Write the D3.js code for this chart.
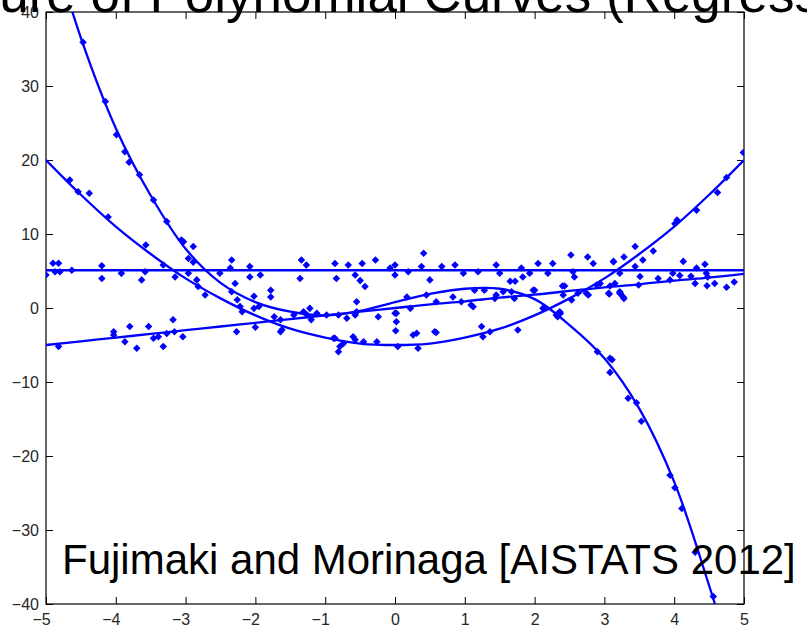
<!DOCTYPE html>
<html>
<head>
<meta charset="utf-8">
<script src="https://d3js.org/d3.v7.min.js"></script>
<style>
  body { margin: 0; background: #fff; }
  svg { display: block; }
</style>
</head>
<body>
<div id="chart"></div>
<script>
// Mixture of polynomial curves

// x positions where the fitted curves were read
var curveX = [-5, -4.5, -4, -3.5, -3, -2.5, -2, -1.5, -1, -0.5, 0, 0.5, 1, 1.5, 2, 2.5, 3, 3.5, 4, 4.5, 5];

// fitted curves (y at curveX)
var flatCurve   = [5.1, 5.1, 5.1, 5.1, 5.1, 5.1, 5.1, 5.1, 5.1, 5.1, 5.1, 5.1, 5.1, 5.1, 5.1, 5.1, 5.1, 5.1, 5.1, 5.1, 5.1];
var linearCurve = [-5, -4.5, -4, -3.5, -3, -2.5, -2, -1.5, -1, -0.5, 0, 0.5, 0.9, 1.4, 1.8, 2.3, 2.8, 3.2, 3.7, 4.1, 4.6];
var quadCurve   = [20, 15.3, 11, 7.3, 4, 1.3, -1, -2.8, -4, -4.8, -5, -4.8, -4, -2.8, -1, 1.3, 4, 7.3, 11, 15.3, 20];
var cubicCurve  = [52, 36.5, 24.3, 15.2, 8.0, 3.4, 0.8, -0.5, -1.0, -0.4, 0.8, 1.9, 2.6, 2.6, 1.2, -2.3, -6.8, -13.6, -23.5, -37.5, -53];

// noisy samples [x, y]
var flatPts = [[-5.0,4.46],[-4.9,6.04],[-4.82,6.04],[-4.87,4.9],[-4.8,4.9],[-4.63,5.1],[-4.2,5.7],[-4.2,4.0],[-3.92,4.68],
  [-3.63,3.8],[-3.58,4.9],[-3.15,4.2],[-2.51,4.7],[-2.34,6.5],[-2.36,5.4],[-2.08,5.6],[-2.08,4.2],[-1.93,4.45],[-1.34,6.5],
  [-1.27,5.8],[-1.36,4.0],[-0.86,6.0],[-0.84,4.0],[-0.67,5.8],[-0.57,4.46],[-0.47,6.0],[-0.28,6.5],[-0.07,5.4],[0.0,5.8],
  [0.0,4.46],[0.19,4.9],[0.41,7.4],[0.38,5.6],[0.5,3.8],[0.67,5.6],[0.86,5.8],[0.98,4.7],[1.19,4.9],[1.45,5.8],[1.5,4.7],
  [1.81,5.4],[1.83,4.2],[1.93,4.7],[2.05,6.0],[2.19,4.7],[2.26,6.0],[2.52,7.15],[2.55,4.9],[2.57,4.2],[2.76,6.9],[2.84,6.0],
  [3.13,6.25],[3.22,4.7],[3.44,5.6],[3.51,4.25],[4.13,6.3],[4.32,5.4],[4.44,5.9],[4.3,3.3],[4.47,3.0],[4.58,3.3],[4.75,2.8],
  [4.86,3.5],[4.46,4.7],[3.98,4.7]];
var linearPts = [[-4.82,-5.2],[-4.03,-3.2],[-4.03,-3.65],[-3.87,-4.55],[-3.8,-2.5],[-3.53,-2.5],[-3.46,-4.1],[-3.7,-5.45],
  [-3.32,-5.2],[-3.39,-3.9],[-3.27,-3.45],[-3.16,-3.2],[-3.18,-1.6],[-3.04,-3.9],[-2.27,-3.2],[-2.0,-2.6],[-1.62,-2.95],
  [-1.64,-3.2],[-1.2,-1.6],[-0.81,-0.95],[-0.69,-1.4],[-0.57,-0.95],[-0.24,-1.17],[0.02,-0.7],[0.02,-1.85],[0.22,-0.05],
  [0.59,0.86],[0.95,0.86],[1.09,0.41],[1.12,0.18],[1.43,1.3],[1.71,1.3],[2.0,2.4],[2.41,1.76],[2.62,1.98],[2.74,1.98],
  [3.06,1.98],[3.22,2.2],[3.27,1.5],[2.94,3.3],[3.07,1.9],[3.23,2.0],[3.28,1.3],[3.49,3.1],[3.77,4.0],[3.94,3.8],[4.08,4.4],
  [4.24,4.3],[4.48,4.2]];
var quadPts = [[-4.66,17.3],[-4.54,15.7],[-4.38,15.5],[-4.11,12.3],[-3.57,8.5],[-3.32,5.8],[-2.96,4.7],[-2.84,3.8],
  [-2.82,2.9],[-2.72,1.76],[-2.26,1.1],[-2.22,0.2],[-2.19,-0.5],[-1.95,0.2],[-1.73,-1.17],[-1.64,-1.6],[-1.45,-0.95],
  [-0.88,-4.1],[-0.81,-5.9],[-0.86,-4.1],[-0.79,-5.2],[-0.74,-4.8],[-0.6,-3.9],[-0.57,-4.3],[-0.45,-4.55],[-0.26,-4.55],
  [0.04,-5.2],[0.01,-3.06],[0.26,-3.65],[0.31,-3.4],[0.33,-5.45],[0.57,-3.2],[0.59,-3.3],[1.24,-2.5],[1.26,-3.9],[1.36,-3.2],
  [1.76,-2.97],[2.53,1.08],[2.77,1.76],[2.89,3.1],[3.15,3.3],[3.13,6.3],[3.28,6.9],[3.44,8.3],[3.55,6.5],[3.7,7.7],[4.01,11.4],
  [4.04,11.9],[4.32,13.2],[4.62,15.6],[4.75,17.65],[4.99,21.0]];
var cubicPts = [[-4.47,35.9],[-4.15,27.9],[-3.99,23.4],[-3.87,21.1],[-3.81,19.7],[-3.66,18.0],[-3.46,14.6],[-3.27,11.7],
  [-3.06,9.2],[-2.89,8.3],[-3.03,8.96],[-2.89,6.2],[-2.96,6.7],[-2.34,2.2],[-2.29,3.3],[-2.02,1.6],[-1.78,2.4],[-1.78,1.5],
  [-2.02,-0.05],[-1.31,-0.5],[-1.26,-0.95],[-1.22,-0.05],[-1.12,-0.7],[-0.98,-0.95],[-0.55,-0.5],[-0.55,0.86],[-0.5,3.7],
  [-0.43,2.9],[0.0,-0.7],[0.17,1.5],[0.45,1.76],[0.83,1.5],[1.14,2.4],[1.28,2.4],[1.45,1.76],[1.55,2.2],[1.67,2.2],[1.65,3.6],
  [1.72,3.6],[1.98,2.4],[2.4,2.97],[2.43,2.97],[2.12,-0.05],[2.31,-0.95],[2.33,-1.17],[2.36,-0.5],[2.37,-0.7],[2.9,-5.9],
  [3.08,-6.8],[3.11,-7.0],[3.08,-8.7],[3.34,-12.2],[3.46,-12.8],[3.53,-15.3],[3.94,-22.6],[4.01,-24.3],[4.11,-27.1],
  [4.3,-33],[4.56,-39],[3.08,2.97],[3.22,1.98]];

var xTicks = [-5, -4, -3, -2, -1, 0, 1, 2, 3, 4, 5];
var yTicks = [-40, -30, -20, -10, 0, 10, 20, 30, 40];

var titleText = "Mixture of Polynomial Curves (Regression)";
var noteText = "Fujimaki and Morinaga [AISTATS 2012]";

var width = 807, height = 628;
var plot = { left: 46, right: 744, top: 12, bottom: 604 };
var blue = "#0000ff";

var svg = d3.select("#chart").append("svg")
  .attr("width", width)
  .attr("height", height)
  .style("font-family", "'Liberation Sans', Arial, sans-serif");

var x = d3.scaleLinear().domain([-5, 5]).range([plot.left, plot.right]);
var y = d3.scaleLinear().domain([-40, 40]).range([plot.bottom, plot.top]);

svg.append("clipPath").attr("id", "plotClip")
  .append("rect")
  .attr("x", plot.left).attr("y", plot.top)
  .attr("width", plot.right - plot.left).attr("height", plot.bottom - plot.top);

// axes (ticks inside, box like matlab)
var tickLen = 7;
function styleAxis(g){
  g.select(".domain").remove();
  g.selectAll("line").attr("stroke", "#000");
  g.selectAll("text").attr("fill", "#262626").style("font-size", "16px").style("font-family", "'Liberation Sans', Arial, sans-serif");
}

svg.append("g")
  .attr("transform", "translate(0," + plot.bottom + ")")
  .call(d3.axisBottom(x).tickValues(xTicks).tickSize(-tickLen).tickSizeOuter(0).tickPadding(10))
  .call(styleAxis)
  .selectAll("text").attr("dx", function(d){ return d < 0 ? -5 : 0 });

svg.append("g")
  .attr("transform", "translate(0," + plot.top + ")")
  .call(d3.axisTop(x).tickValues(xTicks).tickSize(-tickLen).tickSizeOuter(0).tickFormat(""))
  .call(styleAxis);

svg.append("g")
  .attr("transform", "translate(" + plot.left + ",0)")
  .call(d3.axisLeft(y).tickValues(yTicks).tickSize(-tickLen).tickSizeOuter(0).tickPadding(7))
  .call(styleAxis);

svg.append("g")
  .attr("transform", "translate(" + plot.right + ",0)")
  .call(d3.axisRight(y).tickValues(yTicks).tickSize(-tickLen).tickSizeOuter(0).tickFormat(""))
  .call(styleAxis);

svg.append("rect")
  .attr("x", plot.left).attr("y", plot.top)
  .attr("width", plot.right - plot.left).attr("height", plot.bottom - plot.top)
  .attr("fill", "none").attr("stroke", "#000").attr("stroke-width", 1.2);

// curves
var line = d3.line()
  .x(function(d){ return x(d[0]) })
  .y(function(d){ return y(d[1]) })
  .curve(d3.curveCatmullRom);

var curves = [flatCurve, linearCurve, quadCurve, cubicCurve].map(function(c){
  return curveX.map(function(v, i){ return [v, c[i]] });
});

svg.append("g").attr("clip-path", "url(#plotClip)")
  .selectAll("path")
  .data(curves)
  .enter()
  .append("path")
    .attr("d", line)
    .attr("fill", "none")
    .attr("stroke", blue)
    .attr("stroke-width", 2.3);

// sample points as small diamonds
var allPts = flatPts.concat(linearPts, quadPts, cubicPts);
var diamond = d3.symbol().type(d3.symbolDiamond2).size(36);

svg.append("g").attr("clip-path", "url(#plotClip)")
  .selectAll("path")
  .data(allPts)
  .enter()
  .append("path")
    .attr("d", diamond)
    .attr("transform", function(d){ return "translate(" + x(d[0]) + "," + y(d[1]) + ")" })
    .attr("fill", blue);

// slide texts
svg.append("text")
  .attr("x", -98)
  .attr("y", 12)
  .attr("fill", "#000")
  .style("font-size", "53px")
  .text(titleText);

svg.append("text")
  .attr("x", 62)
  .attr("y", 574)
  .attr("fill", "#000")
  .style("font-size", "42px")
  .text(noteText);
</script>
</body>
</html>
